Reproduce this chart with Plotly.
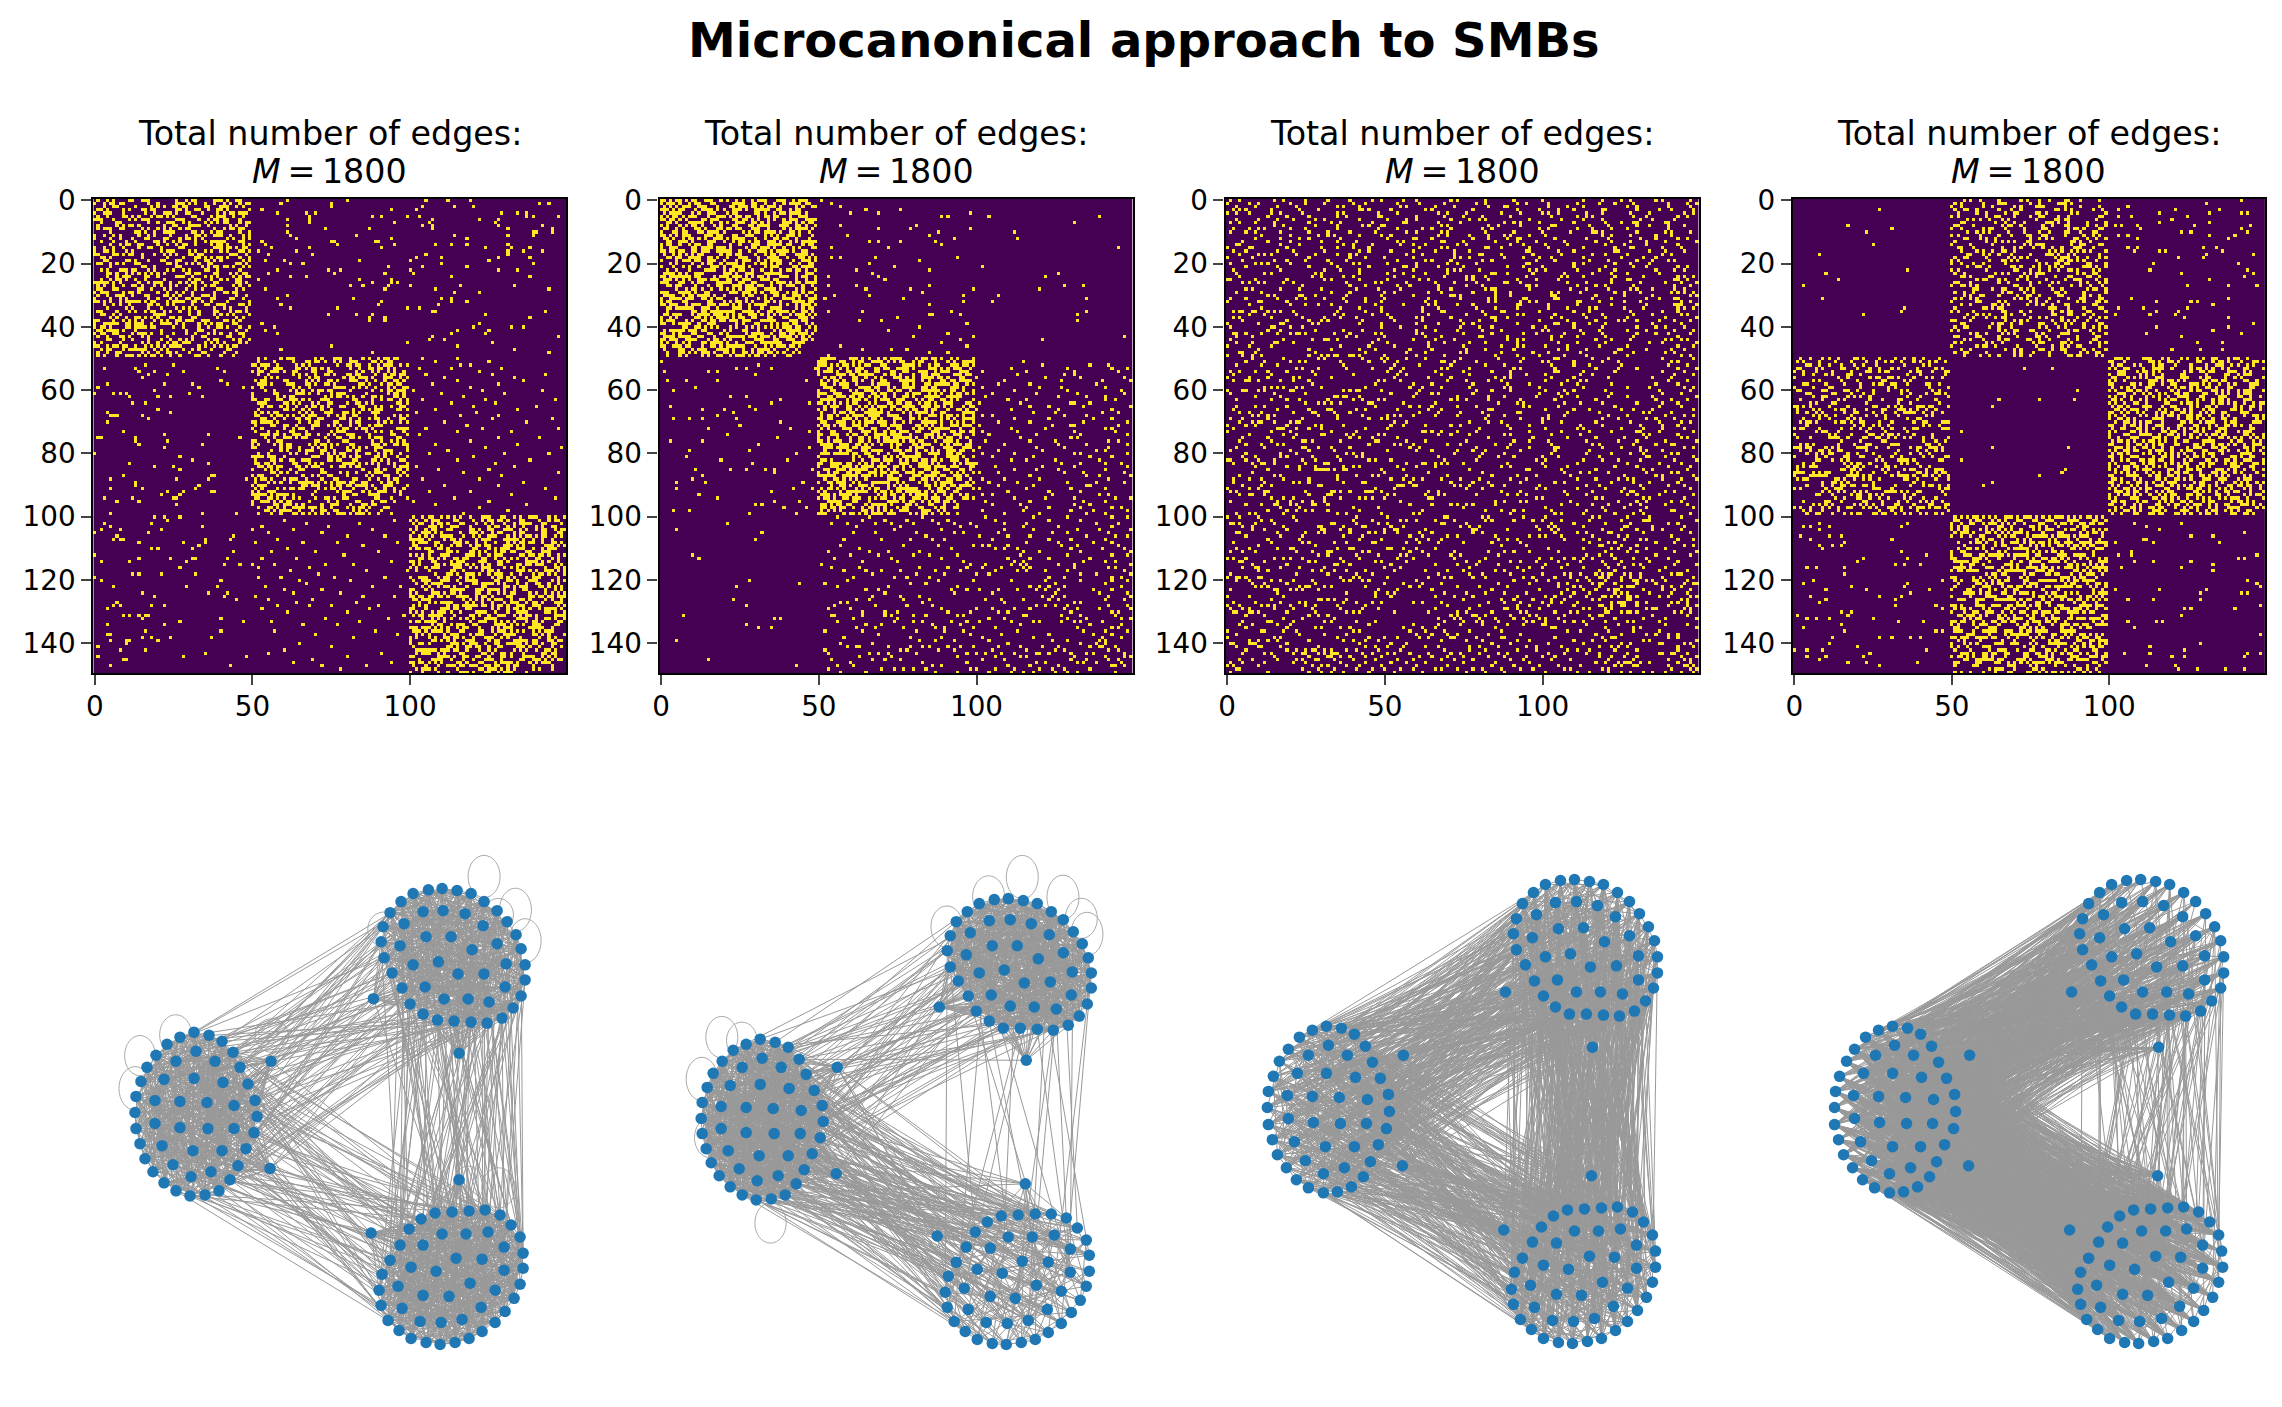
import numpy as np
import plotly.graph_objects as go
from plotly.subplots import make_subplots

N = 150
TITLE = "Microcanonical approach to SMBs"
X_TICKS = [0, 50, 100]
Y_TICKS = [0, 20, 40, 60, 80, 100, 120, 140]

# adjacency: hex rows, one digit = 4 cells, upper triangle only
P1_AA = """4a19c02583a61 16c0483a9252c 93042a6c18e50 2851b034c9a06
c4093a6215b8 06a2d4185c93 a15c0384b621 38049ca1562d
5a0263c8149 c14a96025b3 0693c1a5824 a25084d3916
8c316a0294 41a5097c32 3092c85a16 a641803b59
05c294a36 92a3601c8 4108d5a26 c6309a815
1a54c068 8302b694 54a19023 a06c3158
39150ac 82c4a61 15a3069 c2960a4
4a1853 9026c1 53a048 0c6192
a4205 19c36 8250a 43169 2a84 9051 46a2 18c3 a25 048 93 51 a6 28 4 8""".split()
P1_BB = """285c0a3914b62 a1046d29c3580 5c82a01364b94 09c35a8126d40
3a618c05294b c0549a3612d8 6812c05ba394 a3054d1c9268
1c69a0345b2 85203ca914d 4a96c1025b8 23a45c08169
c015a9346b 6a380c2594 914c26a035 05a8c3149b
a24095c36 51c6a3802 3894c1056 a60d25918
c3160a94 4a925c01 8165a03c 25c0948a
a3840c6 19a5c32 c6024a9 5183a6c
2a9c04 b61385 04ca93 961a25
c3518 2a946 6085c 91a34 5c28 a314 0962 c5a1 386 a49 25 c1 86 43 8 4""".split()
P1_CC = """4b2a91c6538a4 a5c3096d184b3 1968c4a25e309 c3a7105948a62
58c1a6394b2d 6a09d2c5831a 93c4a7156b28 a1685c3e9240
c3a4915b268 2596c3a81d4 a80c57392e1 4d1a96c6382
83a5c1b694 b6192a4c53 5c38d07a91 1a94c36e28
95c2a8136 c1683a9d5 3a5c916a4 a82d45c13
c19a3856 5ea24c93 1835c6a9 97a4c128
4ac2956 a1836dc 5c9a148 82e5a39
d39c14 16a5e8 93c1a7 a5683c
3c9a6 c5a18 69c32 a3e41 95c2 1a86 c4a3 58d9 a63 c49 5a 96 a3 58 8 4""".split()
P1_CROSS = {0:[61,80,105,112,119],1:[59,75,141,144],2:[75,104,114,120],3:[53,94,102],4:[58,67,70,129,134,137],
5:[68,88,91,99,103,137,139,147],6:[61,68,107,122,128],7:[68,95,106,127],8:[61,104,107,128,142],9:[73,87,107,131,145],
10:[61,139,140,145],11:[62,83,114,131,139],12:[64,94,118],13:[53,75,76,89,90],14:[54,77,95,108,113,118,131],
15:[56,68,91,124,132,138],16:[52,64,131,136,142],17:[55,69,105,131],18:[102,110,128,138],19:[54,60,84,100,125],
20:[62,66,110,139],21:[93,104,118],22:[58,74,78,100,128,134],23:[55,76,92,101],24:[62,67,113,138],25:[52,84,94],
26:[88,94,96],27:[81,85,93,100,116,133],28:[54,92,108,144],29:[114,122],30:[61],31:[58,82,110,113],32:[91,113,118],
33:[59,90,109],34:[62,77,99,103],35:[107,108,143],36:[74,83,88,124],37:[87,92,138],38:[87,92],39:[53,122],
40:[57,120,132,136],41:[54,115,125],42:[58,113,124],43:[107,147],44:[106,111],45:[99,126],46:[75,115],47:[59,133],48:[88,144],
50:[104,115],51:[108,125],52:[116,119],53:[103,113,129],54:[122],55:[105,126,143],56:[111,133],57:[115,136],58:[107,128],
59:[119],60:[101,123,142],61:[110,130],62:[117],63:[104,124,146],64:[113,127],65:[120,140],66:[108,134],67:[102,121],
68:[116,128],69:[126,145],70:[111,137],71:[118],72:[105,123,147],73:[115,132],74:[103],75:[128,141],76:[119],77:[108,134],
78:[124,148],79:[112],80:[106,130,144],81:[120],82:[115,138],83:[127],84:[102,133],85:[109,125],86:[117,147],87:[129],
88:[104,122],89:[136],90:[111,128],91:[143],92:[106,119],93:[132],94:[114,146],95:[101,125],96:[108,137],97:[122],98:[131],99:[117]}

P2_AA = """d6b394a5c72e1 3a58c1e6497b2 95ce2376ba14d 4b17a9d3e6582
e29c5834b7a1 5713ad96c4e2 a86e1b52973c 27c94e6a1d58
b4518de39a6 9a36c7215eb 4de82b7a693 63b19c54e8a
a75e24d913 1c96b3a57e d82473ec59 5ba16e928c
3e49d7a62 96c25b1e8 a4713c8d6 c8b95e274
7a2d649b 1e85c37a b6492da5 49c7e138
d5a3964 38ec127 a6175bc 5d92e48
e7a146 29cb58 84d3a7 b51e9c
6a3d8 c2974 9e15b 37a68 a5d4 18e9 c763 5b2a d94 7a6 2e8 b5 68 4 8""".split()
P2_BB = """7c3a95e16d284 e1967ab2c453d 2ad58c1e963b7 b94e367a1d5c8
a6d3198e5c72 3b7c5a26e1d9 d1928ea7b463 69a4c3e51b78
c85e1a37d96 47b29e6c3a1 a9d3647eb25 1e6c8b952d4
6b49a3e7c2 d2e7159a86 8a36cb4e19 35d9e76a2c
e96b2c4d1 7a15e983c b3c49d6a7 28e6a153d
c947d2a6 5e1a93b8 a62d7c45 1b98e36d
e43a9c6 7d2b651 96c4e8a a3715db
5c8e39 d2a764 19e6c3 b847a5
6d392 ea15c 37b8d 94c6a e2a7 59d3 a6c8 3e14 b79 4c6 d8 a5 36 8 4""".split()
P2_BC = """0000000000000 0001000000000 0000040008200 0010000400108
2000800100040 0004000900002 8000020040010 0040001000804
0100400002000 2000081000400 0008000400022 0400100080010
1000002010400 0020800000481 4002000308000 0000410020004
8010002000100 0000204000840 2400000810002 0008010004100
0100400020008 4000008300040 0010020000500 2004000100082
0800100040008 0002000280001 1000404000240 0040002010008
4000100800200 0100040002401 2008000140008 0400200008100
0010804001000 8000001040420 0200040100008 0008102000400
4100000820010 0000400011004 2040080000200 0804000402010
0100200018000 4000800200402 0020010040001 2400008001200
0008020100084 1000400020400 0402000108002 0000810040120
2001000204008 0040080010400""".split()
P2_CC = """1000200400108 0200010040002 0040800002040 8001002000100
040200081004 100008400200 020400010088 400010200401
00802004100 20001080040 04000200812 01080040004
2000400108 0410008002 1000020480 0802100004
400100282 020400010 800042004 010800120
20040108 04000400 10800021 02004100
4001008 0800204 2000410 0140002
400208 081004 200140 040081
10024 40800 08021 20140 0408 4100 0820 1402 401 082 24 81 14 42 2 1""".split()
P2_AB = {0:[51],1:[54],2:[57],3:[65,76],4:[60,69,98],5:[89,91],8:[57,81],9:[69,79,98],10:[88],11:[59,85],12:[93],
13:[66,69,76,87],14:[89],15:[54,72],18:[54,57,68,94],19:[82],20:[66],21:[74],22:[62,85],23:[67],24:[53,69],25:[71],
27:[53,62,85],28:[65,79,99],29:[83],30:[55,66,96],31:[52,77],32:[96],33:[85],35:[53,64,92],36:[85,86,95],37:[75],
38:[63,70],39:[97],40:[82],41:[72],42:[91],43:[80,99],44:[95],45:[89],46:[57,97],47:[64,73,78],48:[85,91],49:[53]}
P2_AC = {5:[104,139],7:[131],10:[112],12:[113],15:[145],21:[102],23:[126],24:[122],27:[128,134],28:[120],30:[107],
31:[135],32:[105],35:[135],36:[132],38:[132],43:[147],44:[121]}

P3_ALL = """4801204081024088014020100800410480a0100
0120084100880204040120090201021040082400
1040820014200140208010c002084001200810
0a02010400340801400200081042018020440804
102408014008200120801040a40210082004a1
80410201200c008041040200101280044012
0208409002010480104a0008020410011020
4410020480200c0102000941002008460180
012008101460000a00120401801040220840
2808401000820241004800120108210008
804020810100480a00201008040d0020141
100804a0204800120410a08400012080840
04120080010184002104c00802040108121
40802104002800c10040820100420841004
0410004820111004800220408008204010
21002108400040a00310082004010c0208
840100240810208400018042001802104
0208114000420080c1004020088100240
40200108201000a40082110040040880
1040820002014100480020801040210a
80040a0100802410001800240108200
020100400c8101000420802008044012
4010820041002a08000a401021000824
00a0020108102000c40401008210040
1204800410040a2001002840100801
0140201004800a1008204000218002
8002014040208100c40008202010100
400108022010084001a00104804002
20040810011002c0080042040a1020
041002400880204200140801210044
80200401001a0042001800402010
1040820008020140300c0082004410
0208400120001404a001820210008
40010080a042000c0201002004018
0820400210010408020814020801
100840020c00418010021000802
40210008008200a0080410041002
040080a01000c4001202081001
8100402002084001008040a2040
22040081012000800c2108001
004101002088004402010020804
900008204041000a0082010400
01400a0010080220104100208
4020010800c0400121008040
080102080004a01000420801
21000840420080041008002
004008010010a0408020100
90020400820100048200c04
0041002801004200801040
a0080400040810102001
10410020020200c00840
02000c8100040a020108
40401002080010210040
0800a040014008004082
1002010082000c04010
240080400210400880
00810004a001020040
80020811000408a00
104002004080210020
02080400a010004001
40001082004120080
0500200001048002
80040108020210041
0014810040080040
2000020a00108100
4041000280400010
0800180004021004
1020400c00080200
040108002100040
80020040a000108
00411000820040
1200040800081
0080200401400
4100008020102
0400a00100800
2010004008040
80010820020
0042001000a
1004080c001
0200400801
4080010020
0210084002
8000240041
004008010
120040800
001802004
400001090
00820040
21000104
04009000
80100022
0024010
4001008
1000820
0280004
100040
002108
840001
010020
00a04
40008
02010
10200
0804
4001
0120
2008
104
010
802
040
00
20
48
01
4
0
2
1""".split()
# rows 24-117, columns 118-149
P3_MID = """00000012 00000048 00000021 00000084 00000010 00000042 00000005 00000080
00000024 00000081 00000012 00000040 00000028 00000001 00000084 00000020
00000410 00000082 00000204 00000040 00000128 00000801 00000042 00000110
00000480 00000024 00000802 00000140 00000208 00000041 00000810 00000082
00004100 00000208 00002040 00008012 00001004 00000820 00004001 00002108
00000840 00001020 00004002 00008100 00000412 00002080 00001024 00000840
00020810 00041002 00008040 00010028 00080401 00002180 00040012 00010800
00020140 00008402 00040081 00001020 00080204 00024008 00010140 00002802
00400821 00108040 00040210 00820004 00100480 00401002 00028010 00080120
00200408 00810002 00040180 00120004 00408020 00018001 00200240 00804010
01004820 08020004 02400100 00810042 04002080 01080012 02010400 00480081
08002004 04100200 01008040 02040081 00820400 04001008 08200140 01040002
20104008 40080012 01400820 10020080 04008100 20081004 80400020 02010048
41000208 08004010 20200084""".split()
# rows 60-117, columns 118-133, the stretch the rows above leave open
P3_GAP = """0000 0000 0000 0000 0008 0000 0010 0002
0040 0001 0020 0004 0100 0008 0002 0080
0200 0010 0100 0004 0820 0001 0200 0040
0408 0002 1000 0080 0210 0800 0004 2000
0120 0008 4000 0201 1004 0080 2000 0410
8000 0102 2000 0040 4008 1000 0200 8004
1000 4000 0820 2000 8000 0401 4000 2010
1000 8000""".split()
# rows 118-149, columns 118-149
P3_CC = """10040020 40000802 00010400 80002001 0200100 4000804 1000008 0400201
200008 080100 400001 012004 80020 04008 20401 01000 0408 8001 1000 0240
240 801 014 042 40 08 21 14 4 2 1 8""".split()

P4_AB = """0a4102890c410 5021c0483a002 90240a1c08410 4c8112006a049
20904c1a02804 a013084c24018 0548a0106c021 18024903a4106
6100b2048c124 902c410605a18 04a821090c462 a04110c608253
0c52004a81924 4012a8c003481 8204015c02619 31008a2491c42
10a4c80152a84 06291043a5012 4c102a805c914 a008d41036a20
9120400a6c185 04c81a29503a4 a0100c4926851 4802a15c00a62
1a0c029046193 00b1448209c25 62012048a0516 9a800c4102489
0184c2a090164 4900b12068205 0a6104c830291 52800a9104618
80c1405220a34 1206a0948c062 40358001c4219 a100c24096185
04a85100c6243 0912c04a10896 c2004a8095120 1805920c4a218
4c09100a28254 a0014c6105892 0290a8141c046 60c1041a20831
0a2160c904862 5014802c1a095 80b2041094c12 12004a0c98246
4c100a2108531 08490a4106c28""".split()
P4_BC = """3a1c514a62c83 c4069a0c5a234 58a2c421394a1 a613c82d4a185
1c5a80a6c3942 9c2a4181065c3 62a9c1c584a07 a4075a836c192
c1a64c3a92871 4a8c15a9a3062 a3690a2c6a5c4 1c94a6c32a5c0
a50a93c61c648 6928ac4a5a1c3 a4c831685a92c 5a1c4c29a0a68
35c8a6a2c1a49 ca5169a54c382 a4295a6c8a136 9a83c26a4c817
26ac41a5c5839 c5a9c318a6a42 4c6a52aa9c061 a1a86c9a345c2
863c9aa56c1a4 91c3a6289aa56 5a96a4c3c162a c26ac61a5a938
3a9a485c6c1a7 a6c5c9631a4a8 5a14aa92c83c6 c9c26a5a41a63
4a36c8a1a69c5 a1962ac6c5a34 96caa34a81c62 a65c1a6c3a924
2a8a96c46ca13 c3c59a26aa146 68a1a6a39c5c2 ca6a5c1628a94
5149caa6a36c8 a6ac326c9514a 3ac9581aa6c46 96a4ac6c3215a
a1c36a4a95c86 6c58a9a2c16a3 c4a1965ca63a8 29a6c4a8a3c15
a6a3a1c9654c2 48c6c6a5a19a3""".split()
P4_AA = {3:[27],8:[17],9:[31],10:[23],14:[25],22:[36],34:[35]}
P4_BB = {53:[73,82],60:[90],63:[65,78,89],78:[87],85:[86]}
P4_AC = {0:[142],1:[131],2:[106],3:[103,121,135],4:[116,132,142,144],5:[103,107,125],6:[120],7:[116,132],8:[102,104,109,127,145],
9:[110,142],10:[123,126,144],11:[103,106,132,140],12:[109,138],15:[106,109,130,134],16:[108,116,118,136],17:[131,146],
18:[122,130],20:[114,141],22:[113,144],23:[123,146],24:[143],25:[132],27:[125,138,147],31:[107,138],32:[115,126,128],33:[133],
34:[103,111,125],35:[115,122],36:[102,113,121],37:[124,138],39:[146],40:[115,138],41:[133],42:[112,142],43:[123],45:[128,136],47:[120,129,136]}
P4_CC = {102:[108,123],103:[112],104:[116],105:[143],106:[126,133],107:[111,112],108:[114,135],112:[147],113:[141,143],114:[114,126],
115:[133],116:[123],117:[133],120:[144],121:[147],122:[148],123:[131],124:[129,142,144],126:[129],128:[148],129:[140],137:[148],143:[144,148]}

# node positions per panel (pixels of the layout drawing), clusters A top right, B left, C bottom right
P1_AX = [934,980,1021,1066,1108,1147,1186,1216,1243,1258,1270,1270,1258,1234,1201,1156,1108,1057,1007,964,925,901,871,847,838,844,865,898,964,1024,1090,1144,1186,1213,1210,1162,1099,1027,970,934,895,907,973,1048,1111,1147,1069,1010,815,1072]
P1_AY = [151,140,136,142,151,175,202,235,274,316,364,409,457,493,523,538,535,532,529,511,481,433,388,343,295,250,208,175,205,202,211,247,301,361,430,475,466,466,430,364,307,241,280,280,319,391,391,355,465,628]
P1_BX = [277,322,361,394,415,439,460,466,457,433,409,385,352,310,265,223,187,154,130,115,103,100,103,118,136,163,196,235,283,340,364,397,397,361,328,268,214,181,160,160,187,223,277,316,319,274,235,235,508,505]
P1_BY = [565,574,592,625,670,720,769,817,865,913,964,1006,1039,1051,1054,1039,1015,982,943,898,853,805,757,712,670,634,601,580,622,652,715,784,853,919,982,997,961,904,838,769,706,652,703,775,853,919,850,772,652,972]
P1_CX = [1000,1051,1102,1150,1195,1228,1255,1264,1264,1255,1237,1210,1180,1141,1102,1060,1015,973,928,892,859,838,832,841,865,895,922,958,1021,1093,1159,1207,1207,1180,1138,1081,1018,955,901,889,928,964,1063,1141,1105,1042,964,1003,808,1072]
P1_CY = [1105,1102,1099,1096,1111,1141,1177,1225,1270,1318,1360,1399,1432,1459,1480,1492,1498,1492,1480,1456,1426,1381,1336,1288,1246,1201,1153,1123,1168,1168,1162,1207,1276,1336,1387,1423,1432,1429,1390,1324,1267,1201,1240,1243,1315,1354,1351,1279,1165,1006]

P2_AX = [922,967,1009,1054,1096,1138,1174,1204,1231,1249,1258,1258,1246,1222,1189,1144,1096,1045,994,952,913,889,859,835,826,835,853,886,952,1015,1078,1132,1174,1201,1198,1153,1087,1015,958,922,883,895,961,1036,1099,1135,1057,997,802,1063]
P2_AY = [181,169,166,172,181,205,229,265,301,343,388,433,481,517,544,559,556,553,553,532,502,457,412,370,322,277,235,205,232,229,241,274,328,385,454,496,490,487,454,388,334,268,307,307,346,415,418,379,490,649]
P2_BX = [265,310,349,382,403,427,451,454,445,421,397,373,340,298,253,211,175,142,118,103,91,88,91,106,124,151,184,223,271,328,352,388,385,349,319,256,202,169,148,148,175,211,265,304,307,262,223,223,496,493]
P2_BY = [586,595,610,646,691,739,784,832,880,928,976,1018,1051,1063,1066,1051,1027,994,955,913,868,823,775,730,688,652,619,601,643,670,733,799,868,934,994,1009,973,919,853,787,724,670,721,793,868,934,865,790,670,988]
P2_CX = [988,1039,1090,1138,1183,1216,1243,1252,1252,1243,1225,1198,1168,1129,1090,1048,1003,961,916,880,847,826,820,829,853,883,910,946,1009,1081,1147,1195,1195,1168,1126,1069,1006,943,889,877,916,955,1051,1129,1093,1030,955,991,796,1060]
P2_CY = [1114,1111,1108,1108,1120,1150,1186,1231,1279,1324,1366,1402,1435,1462,1483,1492,1498,1495,1483,1459,1429,1387,1342,1294,1252,1207,1162,1132,1177,1177,1171,1213,1282,1339,1393,1426,1435,1432,1393,1330,1273,1210,1249,1252,1321,1360,1354,1285,1174,1018]

P3_AX = [910,955,997,1042,1084,1126,1162,1192,1219,1237,1246,1246,1234,1210,1177,1132,1084,1033,982,940,904,877,850,823,814,823,841,874,940,1003,1066,1120,1162,1189,1189,1141,1075,1003,946,910,871,883,949,1024,1087,1123,1045,985,790,1051]
P3_AY = [124,112,109,115,124,148,175,211,250,292,340,388,433,472,502,517,514,511,511,490,457,412,364,319,271,226,181,148,178,175,187,220,277,337,409,451,445,445,409,340,283,214,256,253,295,367,370,331,445,610]
P3_BX = [253,298,337,370,391,415,439,442,433,409,385,364,328,286,244,199,163,133,106,91,79,76,79,94,112,139,172,211,259,316,340,376,373,337,307,244,190,157,139,136,166,199,253,292,295,250,214,211,484,481]
P3_BY = [547,553,571,607,655,703,751,802,853,901,952,997,1027,1042,1045,1030,1006,970,931,886,841,790,742,697,652,616,580,559,604,634,700,766,838,907,970,988,949,892,823,754,688,634,688,760,838,907,835,757,634,964]
P3_CX = [976,1027,1078,1126,1171,1204,1231,1240,1240,1231,1213,1186,1156,1120,1078,1036,991,949,904,868,835,814,808,817,841,871,898,934,997,1069,1135,1183,1183,1156,1114,1057,994,931,877,865,904,943,1042,1117,1081,1018,943,979,785,1048]
P3_CY = [1096,1093,1090,1087,1102,1132,1171,1219,1267,1312,1357,1396,1429,1456,1480,1489,1495,1492,1480,1453,1423,1378,1333,1282,1240,1192,1147,1114,1159,1159,1153,1201,1270,1330,1384,1420,1429,1426,1387,1321,1261,1195,1234,1237,1312,1351,1348,1273,1156,994]

P4_AX = [898,943,985,1030,1072,1114,1150,1180,1207,1225,1234,1234,1225,1198,1165,1120,1072,1021,970,928,892,865,838,811,802,811,829,862,928,991,1054,1111,1150,1177,1177,1129,1063,991,934,898,862,874,937,1012,1075,1111,1033,973,778,1039]
P4_AY = [124,112,109,115,124,148,175,211,250,292,340,388,433,472,502,517,514,511,511,490,457,412,364,319,271,226,181,148,178,175,187,220,277,337,409,451,445,445,409,340,283,214,256,253,295,367,370,331,445,610]
P4_BX = [241,286,325,358,379,403,427,430,424,397,373,352,316,274,232,187,151,121,94,79,67,67,70,82,103,127,160,199,247,304,328,364,361,325,295,232,178,145,127,124,154,190,241,280,283,241,202,199,472,469]
P4_BY = [547,553,571,607,655,703,751,802,853,901,952,997,1027,1042,1045,1030,1006,970,931,886,841,790,742,697,652,616,580,559,604,634,700,766,838,907,970,988,949,892,823,754,688,634,688,760,838,907,835,757,634,964]
P4_CX = [964,1015,1066,1114,1159,1192,1219,1228,1231,1219,1201,1174,1144,1108,1066,1024,979,937,892,856,823,805,796,805,829,859,886,922,988,1060,1123,1171,1171,1144,1102,1048,982,919,865,853,892,931,1030,1105,1069,1006,931,967,772,1036]
P4_CY = [1096,1093,1090,1087,1102,1132,1171,1219,1267,1312,1357,1396,1429,1456,1480,1489,1495,1492,1480,1453,1423,1378,1333,1282,1240,1192,1147,1114,1159,1159,1153,1201,1270,1330,1384,1420,1429,1426,1387,1321,1261,1195,1234,1237,1312,1351,1348,1273,1156,994]

# self loops: centre and radii
P1_LOOPS = [(1147,100,48,63),(1241,200,48,65),(1270,292,48,66),(1190,215,45,50),(848,258,50,52),(222,573,48,60),(115,635,46,60),(100,733,48,65),(510,575,50,50),(1100,1020,45,55),(1190,1030,50,60)]
P2_LOOPS = [(1051,102,48,65),(950,160,48,62),(1173,162,48,66),(1228,225,48,60),(1245,272,48,65),(825,250,48,62),(150,580,48,62),(210,590,46,55),(90,705,47,65),(296,1135,47,60),(115,880,47,60)]
P3_LOOPS = []
P4_LOOPS = []

HEAT_X = [(91.7, 564.3), (657.7, 1130.7), (1223.5, 1696.7), (1790.7, 2262.7)]
GRAPH_X = [100, 670, 1240, 1810]
W, H = 2282, 1407


# page pixels to paper fractions, as measured from the earlier renders
def fx(x):
    return (x - 13.4) / (0.9966 * W)


def fy(y):
    return 1 - (y - 23.6) / (0.985 * H)


def fill(m, rows, r0, c0, n, tri=False):
    for i, s in enumerate(rows):
        start = i // 4 if tri else 0
        for k, ch in enumerate(s):
            bits = int(ch, 16)
            for b in range(4):
                c = (start + k) * 4 + b
                if bits & (8 >> b) and c < n and (not tri or c >= i):
                    m[r0 + i, c0 + c] = 1


def fill_cells(m, cells):
    for r, cols in cells.items():
        for c in cols:
            m[r, c] = 1


m1 = np.zeros((N, N), dtype=int)
fill(m1, P1_AA, 0, 0, 50, True)
fill(m1, P1_BB, 50, 50, 50, True)
fill(m1, P1_CC, 100, 100, 50, True)
fill_cells(m1, P1_CROSS)

m2 = np.zeros((N, N), dtype=int)
fill(m2, P2_AA, 0, 0, 50, True)
fill(m2, P2_BB, 50, 50, 50, True)
fill(m2, P2_CC, 100, 100, 50, True)
fill(m2, P2_BC, 50, 100, 50)
fill_cells(m2, P2_AB)
fill_cells(m2, P2_AC)

m3 = np.zeros((N, N), dtype=int)
fill(m3, P3_ALL, 0, 0, 150, True)
fill(m3, P3_MID, 24, 118, 32)
fill(m3, P3_GAP, 60, 118, 16)
fill(m3, P3_CC, 118, 118, 32, True)

m4 = np.zeros((N, N), dtype=int)
fill(m4, P4_AB, 0, 50, 50)
fill(m4, P4_BC, 50, 100, 50)
fill_cells(m4, P4_AA)
fill_cells(m4, P4_BB)
fill_cells(m4, P4_AC)
fill_cells(m4, P4_CC)

matrices = [m1 | m1.T, m2 | m2.T, m3 | m3.T, m4 | m4.T]
node_x = [P1_AX + P1_BX + P1_CX, P2_AX + P2_BX + P2_CX, P3_AX + P3_BX + P3_CX, P4_AX + P4_BX + P4_CX]
node_y = [P1_AY + P1_BY + P1_CY, P2_AY + P2_BY + P2_CY, P3_AY + P3_BY + P3_CY, P4_AY + P4_BY + P4_CY]
loops = [P1_LOOPS, P2_LOOPS, P3_LOOPS, P4_LOOPS]

fig = make_subplots(rows=2, cols=4)

for i in range(4):
    col = i + 1
    m = matrices[i]
    fig.add_trace(go.Heatmap(z=m, zmin=0, zmax=1, showscale=False, hoverinfo="skip",
                             colorscale=[[0, "#440154"], [1, "#fde725"]]), row=1, col=col)
    fig.update_xaxes(row=1, col=col, domain=[fx(HEAT_X[i][0]), fx(HEAT_X[i][1])], range=[-0.5, 149.5],
                     tickvals=X_TICKS, ticks="outside", ticklen=10, tickwidth=2.2, showgrid=False, zeroline=False,
                     showline=True, linewidth=2.2, linecolor="black", mirror=True, ticklabelstandoff=-3)
    fig.update_yaxes(row=1, col=col, domain=[fy(671), fy(198.5)], range=[149.5, -0.5],
                     tickvals=Y_TICKS, ticks="outside", ticklen=10, tickwidth=2.2, showgrid=False, zeroline=False,
                     showline=True, linewidth=2.2, linecolor="black", mirror=True)

    ex, ey = [], []
    for a, b in np.argwhere(np.triu(m, 1)):
        ex += [node_x[i][a], node_x[i][b], None]
        ey += [node_y[i][a], node_y[i][b], None]
    fig.add_trace(go.Scatter(x=ex, y=ey, mode="lines", line=dict(color="#999999", width=1, simplify=False),
                             hoverinfo="skip", showlegend=False), row=2, col=col)
    fig.add_trace(go.Scatter(x=node_x[i], y=node_y[i], mode="markers", hoverinfo="skip", showlegend=False,
                             marker=dict(color="#1f77b4", size=11.5)), row=2, col=col)
    fig.update_xaxes(row=2, col=col, domain=[fx(GRAPH_X[i]), fx(GRAPH_X[i] + 460)], range=[0, 1380], visible=False)
    fig.update_yaxes(row=2, col=col, domain=[fy(1360), fy(840)], range=[1560, 0], visible=False)

    for cx, cy, rx, ry in loops[i]:
        fig.add_shape(type="circle", x0=cx - rx, x1=cx + rx, y0=cy - ry, y1=cy + ry, row=2, col=col,
                      line=dict(color="#aaaaaa", width=1), layer="below")

    mid = fx((HEAT_X[i][0] + HEAT_X[i][1]) / 2)
    fig.add_annotation(text="Total number of edges:", x=mid, y=fy(134), xref="paper", yref="paper",
                       showarrow=False, xanchor="center", yanchor="middle", font=dict(size=33.3))
    fig.add_annotation(text="<i>M</i>\u2009=\u20091800", x=mid, y=fy(171), xref="paper", yref="paper",
                       showarrow=False, xanchor="center", yanchor="middle", font=dict(size=33.3))

fig.add_annotation(text="<b>" + TITLE + "</b>", x=fx(1142), y=fy(41), xref="paper", yref="paper",
                   showarrow=False, xanchor="center", yanchor="middle", font=dict(size=48))

fig.update_layout(width=W, height=H, margin=dict(l=0, r=0, t=0, b=0), plot_bgcolor="white", paper_bgcolor="white",
                  showlegend=False, font=dict(family="DejaVu Sans", size=27.8, color="black"))

fig.write_html("out.html")
